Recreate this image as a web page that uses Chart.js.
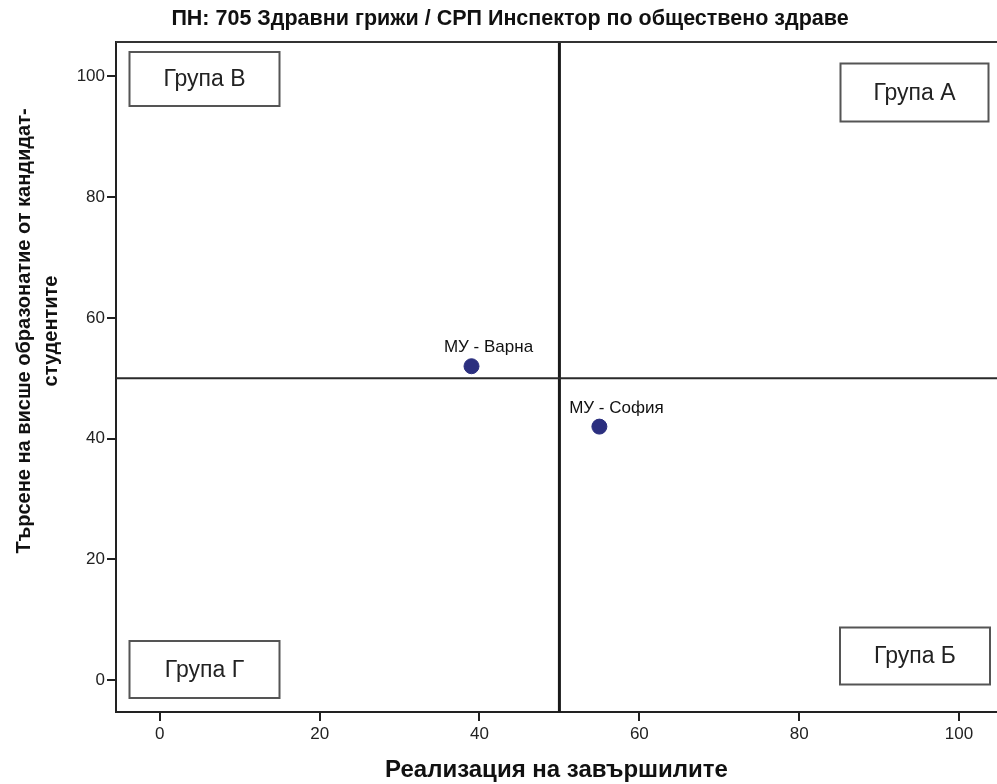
<!DOCTYPE html>
<html>
<head>
<meta charset="utf-8">
<script src="https://cdn.jsdelivr.net/npm/chart.js@4.4.1/dist/chart.umd.min.js"></script>
<style>
  html, body { margin: 0; padding: 0; background: #fff; overflow: hidden; }
  #c { display: block; }
</style>
</head>
<body>
<canvas id="c" width="997" height="784"></canvas>
<script>
// ---- data ----
const chartTitle = 'ПН: 705 Здравни грижи / СРП Инспектор по обществено здраве';
const xTitle = 'Реализация на завършилите';
const yTitleLines = ['Търсене на висше образонатие от кандидат-', 'студентите'];
const universities = ['МУ - Варна', 'МУ - София'];
const realization = [39, 55];
const demand = [52, 42];
const xTickValues = [0, 20, 40, 60, 80, 100];
const yTickValues = [0, 20, 40, 60, 80, 100];
const refLineX = 50;
const refLineY = 50;
const groupNames = ['Група А', 'Група Б', 'Група В', 'Група Г'];

const FONT = "'Liberation Sans', Arial, sans-serif";
const points = universities.map((u, i) => ({ x: realization[i], y: demand[i], label: u }));

const decorPlugin = {
  id: 'decor',
  beforeDatasetsDraw(chart) {
    const { ctx, chartArea: a, scales: { x, y } } = chart;
    ctx.save();
    // reference lines
    const px = x.getPixelForValue(refLineX);
    const py = y.getPixelForValue(refLineY);
    ctx.strokeStyle = '#1a1a1a';
    ctx.lineWidth = 3;
    ctx.beginPath(); ctx.moveTo(px, a.top); ctx.lineTo(px, a.bottom); ctx.stroke();
    ctx.lineWidth = 2;
    ctx.strokeStyle = '#2a2a2a';
    ctx.beginPath(); ctx.moveTo(a.left, py); ctx.lineTo(a.right, py); ctx.stroke();
    // top border
    ctx.strokeStyle = '#333';
    ctx.lineWidth = 2;
    ctx.beginPath(); ctx.moveTo(a.left, a.top); ctx.lineTo(a.right, a.top); ctx.stroke();
    // group boxes
    const boxes = [
      { name: groupNames[0], l: a.right - 156.5, t: a.top + 21.5, w: 148, h: 58 },
      { name: groupNames[1], l: a.right - 157, t: a.bottom - 84.5, w: 150, h: 57 },
      { name: groupNames[2], l: a.left + 13.5, t: a.top + 10, w: 150, h: 54 },
      { name: groupNames[3], l: a.left + 13.5, t: a.bottom - 71, w: 150, h: 57 }
    ];
    ctx.font = '23px ' + FONT;
    ctx.textAlign = 'center';
    ctx.textBaseline = 'middle';
    boxes.forEach(b => {
      ctx.fillStyle = '#fff';
      ctx.fillRect(b.l, b.t, b.w, b.h);
      ctx.strokeStyle = '#555';
      ctx.lineWidth = 2;
      ctx.strokeRect(b.l, b.t, b.w, b.h);
      ctx.fillStyle = '#222';
      ctx.fillText(b.name, b.l + b.w / 2, b.t + b.h / 2 + 1);
    });
    ctx.restore();
  },
  afterDatasetsDraw(chart) {
    const { ctx } = chart;
    const meta = chart.getDatasetMeta(0);
    ctx.save();
    ctx.font = '17px ' + FONT;
    ctx.fillStyle = '#111';
    ctx.textAlign = 'center';
    ctx.textBaseline = 'bottom';
    meta.data.forEach((el, i) => {
      ctx.fillText(points[i].label, el.x + 17, el.y - 10);
    });
    ctx.restore();
  },
  afterDraw(chart) {
    const { ctx, chartArea: a } = chart;
    ctx.save();
    ctx.fillStyle = '#111';
    ctx.textAlign = 'center';
    ctx.textBaseline = 'middle';
    ctx.font = 'bold 21.5px ' + FONT;
    ctx.fillText(chartTitle, 510, 19);
    ctx.font = 'bold 24px ' + FONT;
    ctx.fillText(xTitle, (a.left + a.right) / 2, 770);
    ctx.font = 'bold 20px ' + FONT;
    const xs = [24, 51.5];
    yTitleLines.forEach((line, i) => {
      ctx.save();
      ctx.translate(xs[i], 331);
      ctx.rotate(-Math.PI / 2);
      ctx.fillText(line, 0, 0);
      ctx.restore();
    });
    ctx.restore();
  }
};

new Chart(document.getElementById('c'), {
  type: 'scatter',
  data: {
    datasets: [{
      data: points,
      backgroundColor: '#2b2f7f',
      borderColor: '#2b2f7f',
      pointRadius: 7.5,
      pointHoverRadius: 7.5
    }]
  },
  options: {
    responsive: false,
    maintainAspectRatio: false,
    devicePixelRatio: 1,
    animation: false,
    events: [],
    layout: { autoPadding: false, padding: { top: 42, left: 0, right: 0, bottom: 0 } },
    plugins: { legend: { display: false }, tooltip: { enabled: false }, title: { display: false } },
    scales: {
      x: {
        type: 'linear',
        min: -5.48,
        max: 104.75,
        afterFit(s) { s.height = 72; s.paddingRight = 0; s.paddingLeft = 0; },
        afterBuildTicks(s) { s.ticks = xTickValues.map(v => ({ value: v })); },
        ticks: { color: '#222', font: { size: 17, family: FONT }, padding: 3, maxRotation: 0 },
        grid: { drawOnChartArea: false, drawTicks: true, tickLength: 9, color: '#222', lineWidth: 2 },
        border: { display: true, color: '#222', width: 2 }
      },
      y: {
        type: 'linear',
        min: -5.25,
        max: 105.68,
        afterFit(s) { s.width = 116; s.paddingTop = 0; s.paddingBottom = 0; },
        afterBuildTicks(s) { s.ticks = yTickValues.map(v => ({ value: v })); },
        ticks: { color: '#222', font: { size: 17, family: FONT }, padding: 2 },
        grid: { drawOnChartArea: false, drawTicks: true, tickLength: 9, color: '#222', lineWidth: 2 },
        border: { display: true, color: '#222', width: 2 }
      }
    }
  },
  plugins: [decorPlugin]
});
</script>
</body>
</html>
